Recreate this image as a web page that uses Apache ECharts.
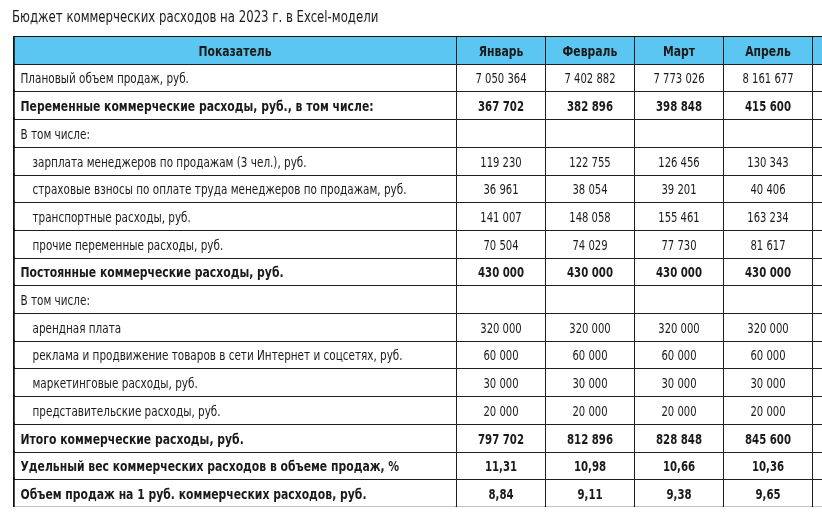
<!DOCTYPE html>
<html><head><meta charset="utf-8">
<script src="https://cdn.jsdelivr.net/npm/echarts@6/dist/echarts.min.js"></script>
<style>html,body{margin:0;padding:0;background:#fff}#c{width:822px;height:521px}</style>
</head><body><div id="c"></div>
<script>
const chartTitle = 'Бюджет коммерческих расходов на 2023 г. в Excel-модели';
const headerLabel = 'Показатель';
const months = ['Январь', 'Февраль', 'Март', 'Апрель', ''];
const rowLabels = [
  'Плановый объем продаж, руб.',
  'Переменные коммерческие расходы, руб., в том числе:',
  'В том числе:',
  'зарплата менеджеров по продажам (3 чел.), руб.',
  'страховые взносы по оплате труда менеджеров по продажам, руб.',
  'транспортные расходы, руб.',
  'прочие переменные расходы, руб.',
  'Постоянные коммерческие расходы, руб.',
  'В том числе:',
  'арендная плата',
  'реклама и продвижение товаров в сети Интернет и соцсетях, руб.',
  'маркетинговые расходы, руб.',
  'представительские расходы, руб.',
  'Итого коммерческие расходы, руб.',
  'Удельный вес коммерческих расходов в объеме продаж, %',
  'Объем продаж на 1 руб. коммерческих расходов, руб.'
];
// row kinds: plain, bold, item (indented)
const rowKinds = ['plain','bold','plain','item','item','item','item','bold','plain','item','item','item','item','bold','bold','bold'];
const janValues = [7050364, 367702, null, 119230, 36961, 141007, 70504, 430000, null, 320000, 60000, 30000, 20000, 797702, 11.31, 8.84];
const febValues = [7402882, 382896, null, 122755, 38054, 148058, 74029, 430000, null, 320000, 60000, 30000, 20000, 812896, 10.98, 9.11];
const marValues = [7773026, 398848, null, 126456, 39201, 155461, 77730, 430000, null, 320000, 60000, 30000, 20000, 828848, 10.66, 9.38];
const aprValues = [8161677, 415600, null, 130343, 40406, 163234, 81617, 430000, null, 320000, 60000, 30000, 20000, 845600, 10.36, 9.65];
const decimalRows = [14, 15];

// layout (column edges in axis units)
const colEdges = [0, 443, 532, 621, 710, 799, 809];
const FONT = "'DejaVu Sans Condensed', 'DejaVu Sans', sans-serif";

function fmt(v, dec) {
  if (v === null || v === undefined) return '';
  if (dec) return v.toFixed(2).replace('.', ',');
  return String(Math.round(v)).replace(/\B(?=(\d{3})+(?!\d))/g, ' ');
}

const monthCols = [janValues, febValues, marValues, aprValues, rowLabels.map(() => null)];
const nRows = rowLabels.length + 1;
const cells = [];
const cellText = [];
for (let r = 0; r < nRows; r++) {
  for (let c = 0; c < colEdges.length - 1; c++) {
    cells.push([c, r]);
    let t;
    if (r === 0) t = c === 0 ? headerLabel : months[c - 1];
    else if (c === 0) t = rowLabels[r - 1];
    else t = fmt(monthCols[c - 1][r - 1], decimalRows.indexOf(r - 1) >= 0);
    cellText.push(t);
  }
}

const chart = echarts.init(document.getElementById('c'), null, {renderer: 'canvas'});
chart.setOption({
  animation: false,
  graphic: [{
    type: 'text', x: 12, y: 18, scaleX: 0.815,
    style: {text: chartTitle, x: 0, y: 0, verticalAlign: 'middle', align: 'left',
      fontFamily: FONT, fontSize: 16, fill: '#1a1a1a'}
  }],
  grid: {left: 13, right: 0, top: 36, bottom: 14},
  xAxis: {type: 'value', min: 0, max: 809, show: false},
  yAxis: {type: 'value', min: 0, max: nRows, inverse: true, show: false},
  series: [{
    type: 'custom',
    clip: true,
    data: cells,
    renderItem: function (params, api) {
      const c = api.value(0), r = api.value(1);
      const p0 = api.coord([colEdges[c], r]);
      const p1 = api.coord([colEdges[c + 1], r + 1]);
      const x0 = Math.round(p0[0]) + 0.5, y0 = Math.round(p0[1]) + 0.5;
      const x1 = Math.round(p1[0]) + 0.5, y1 = Math.round(p1[1]) + 0.5;
      const kind = r === 0 ? 'header' : rowKinds[r - 1];
      const bold = kind === 'header' || kind === 'bold';
      const children = [{
        type: 'rect',
        shape: {x: x0, y: y0, width: x1 - x0, height: y1 - y0},
        style: {fill: r === 0 ? '#5BC6F2' : '#ffffff', stroke: '#1e1e1e', lineWidth: 1}
      }];
      const txt = cellText[params.dataIndex];
      if (txt) {
        let tx, align, sx;
        if (c === 0 && r > 0) {
          tx = x0 + 7 + (kind === 'item' ? 12 : 0); align = 'left';
          sx = bold ? 0.83 : 0.80;
        } else {
          tx = (x0 + x1) / 2; align = 'center';
          sx = r === 0 ? 0.83 : (bold ? 0.78 : 0.77);
        }
        children.push({
          type: 'text', x: tx, y: (y0 + y1) / 2 + 1.5, scaleX: sx,
          style: {
            x: 0, y: 0, text: txt, align: align, verticalAlign: 'middle',
            fontFamily: FONT, fontSize: 14.5, fontWeight: bold ? 'bold' : 'normal', fill: '#1a1a1a'
          }
        });
      }
      if (r === 0) children.push({type: 'line', shape: {x1: x0 - 1.5, y1: y0 - 1, x2: x1 + 1, y2: y0 - 1}, style: {stroke: '#111', lineWidth: 2.5}});
      if (r === nRows - 1) children.push({type: 'line', shape: {x1: x0 - 1.5, y1: y1 + 0.5, x2: x1 + 1, y2: y1 + 0.5}, style: {stroke: '#111', lineWidth: 2.5}});
      if (c === 0) children.push({type: 'line', shape: {x1: x0, y1: y0 - 2, x2: x0, y2: y1 + 1}, style: {stroke: '#111', lineWidth: 2.5}});
      return {type: 'group', children: children};
    }
  }]
});
</script></body></html>
